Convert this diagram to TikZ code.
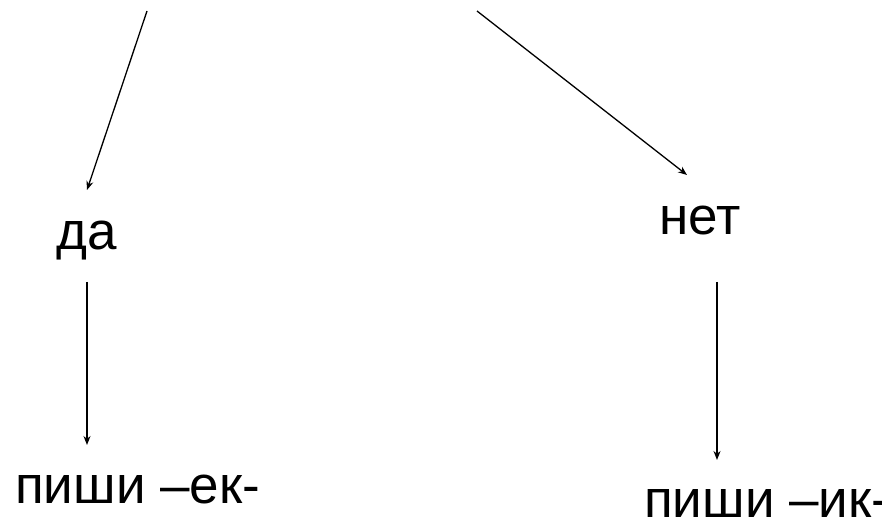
\documentclass[tikz,border=0pt]{standalone}
\usepackage{fontspec}
\setmainfont{Liberation Sans}
\usetikzlibrary{arrows.meta}
\begin{document}
\begin{tikzpicture}[x=1pt,y=1pt,
  lbl/.style={inner sep=0pt,anchor=base west,font=\fontsize{53}{62}\selectfont},
  arr/.style={line width=1.3pt,-{Stealth[length=9pt,width=7pt]}}]
\useasboundingbox (0,0) rectangle (882,521);
\node[lbl] (da) at (56,271) {да};
\node[lbl] (net) at (659,286) {нет};
\node[lbl] (ek) at (15,17) {пиши –ек-};
\node[lbl] (ik) at (644,3) {пиши –ик-};
\coordinate (s1) at (147,510);
\coordinate (e1) at (87,331);
\coordinate (s2) at (477,510);
\coordinate (e2) at (687,346);
\coordinate (s3) at (87,239);
\coordinate (e3) at (87,76);
\coordinate (s4) at (717,239);
\coordinate (e4) at (717,61);
\draw[arr] (s1) -- (e1);
\draw[arr] (s2) -- (e2);
\draw[arr] (s3) -- (e3);
\draw[arr] (s4) -- (e4);
\end{tikzpicture}
\end{document}
